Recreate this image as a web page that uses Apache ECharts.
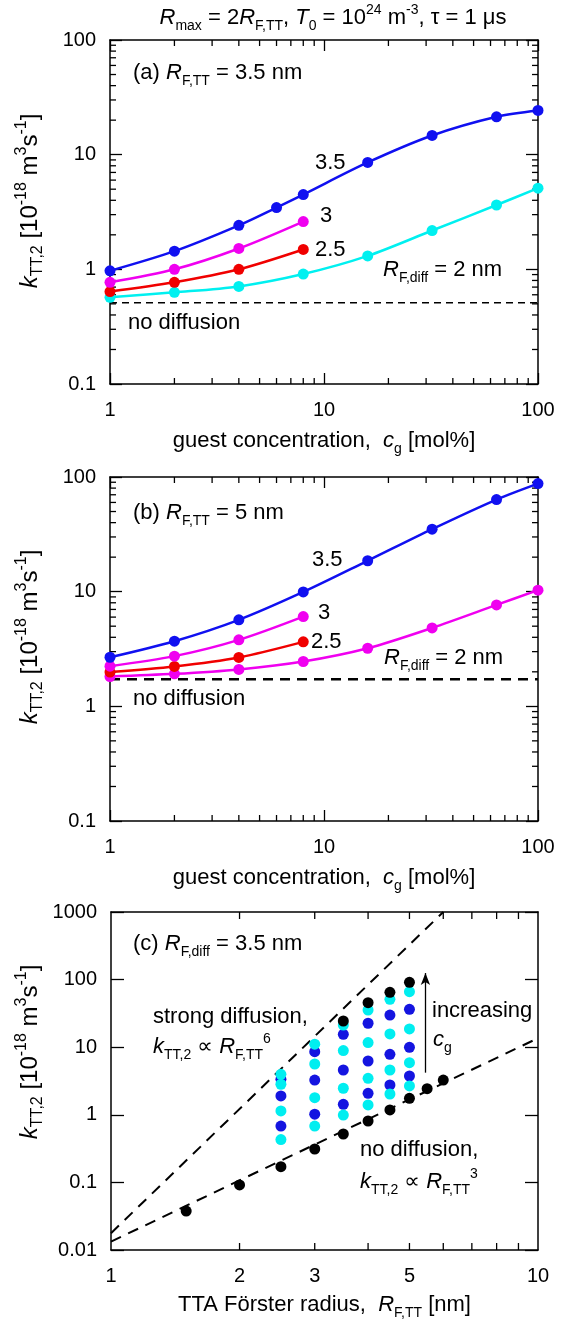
<!DOCTYPE html>
<html>
<head>
<meta charset="utf-8">
<script src="https://cdn.jsdelivr.net/npm/echarts@6/dist/echarts.min.js"></script>
<style>
html, body { margin: 0; padding: 0; background: #fff; }
#chart { width: 576px; height: 1324px; }
</style>
</head>
<body>
<div id="chart"></div>
<script>
// ---- panel (a): R_F,TT = 3.5 nm ----
const cgA = [1, 2, 4, 6, 8, 16, 32, 64, 100];
const kA_35 = [0.97, 1.44, 2.42, 3.46, 4.49, 8.55, 14.7, 21.4, 24.3];
const cgShort = [1, 2, 4, 8];
const kA_3 = [0.77, 1.0, 1.52, 2.61];
const kA_25 = [0.64, 0.77, 1.0, 1.49];
const cgFull = [1, 2, 4, 8, 16, 32, 64, 100];
const kA_2 = [0.57, 0.63, 0.71, 0.91, 1.31, 2.18, 3.64, 5.1];
const kA_noDiff = 0.51;

// ---- panel (b): R_F,TT = 5 nm ----
const kB_35 = [2.68, 3.70, 5.68, 9.94, 18.6, 35.1, 63.6, 87.6];
const kB_3 = [2.24, 2.74, 3.80, 6.06];
const kB_25 = [1.99, 2.23, 2.67, 3.65];
const kB_2 = [1.82, 1.92, 2.10, 2.46, 3.21, 4.83, 7.66, 10.3];
const kB_noDiff = 1.72;

// ---- panel (c): R_F,diff = 3.5 nm, columns = cg 1,2,4,8,16,32,64,100 ----
const rCols = [2.5, 3, 3.5, 4, 4.5, 5];
const kC_25 = [0.43, 0.68, 1.14, 1.90, 2.83, 3.35, 3.97];
const kC_3 = [0.68, 1.02, 1.79, 3.27, 5.64, 8.6, 11.1];
const kC_35 = [0.99, 1.43, 2.47, 4.6, 8.9, 15.5, 21.3, 24.4];
const kC_4 = [1.40, 2.08, 3.47, 6.25, 11.7, 22.6, 35.5, 45.5];
const kC_45 = [2.03, 2.76, 4.6, 7.85, 15.7, 29.9, 51.1, 64.9];
const kC_5 = [2.67, 3.75, 5.9, 9.96, 18.6, 36.4, 66.2, 91.2];
const rNoDiff = [1.5, 2, 2.5, 3, 3.5, 4, 4.5, 5, 5.5, 6];
const kNoDiff = [0.0377, 0.0916, 0.171, 0.312, 0.52, 0.81, 1.18, 1.75, 2.43, 3.27];
const lineNoDiff = [[1, 0.0133], [10, 13.6]];
const lineStrong = [[1, 0.0177], [6.0, 1000]];
const arrowR = 5.45, arrowFrom = 4.2, arrowTo = 125;

// ticks / labels
const minorAB_x = [2, 3, 4, 5, 6, 7, 8, 9, 20, 30, 40, 50, 60, 70, 80, 90];
const minorAB_y = [0.2, 0.3, 0.4, 0.5, 0.6, 0.7, 0.8, 0.9, 2, 3, 4, 5, 6, 7, 8, 9, 20, 30, 40, 50, 60, 70, 80, 90];
const ticksC_x = [2, 3, 4, 5, 6, 7, 8, 9];
const labelsC_x = [1, 2, 3, 5, 10];

const FONT = "'Liberation Sans', Arial, 'DejaVu Sans', sans-serif";
const BLUE = '#1010f0', CYAN = '#00f0f0', MAGENTA = '#f000f0', RED = '#f00000';

const zip = (xs, ys) => xs.map((x, i) => [x, ys[i]]);

// rich text styles (axis names use "color", graphic uses "fill")
function richStyles(key, size, small) {
  const base = { fontFamily: FONT };
  base[key] = '#000';
  return {
    n: Object.assign({ fontSize: size, lineHeight: size + 8 }, base),
    i: Object.assign({ fontSize: size, lineHeight: size + 8, fontStyle: 'italic' }, base),
    sub: Object.assign({ fontSize: small, lineHeight: small, verticalAlign: 'bottom' }, base),
    sup: Object.assign({ fontSize: small, lineHeight: small, verticalAlign: 'top' }, base)
  };
}
const axisRich = richStyles('color', 22, 14);
const gRich = richStyles('fill', 22, 14);
const yRich = richStyles('fill', 24, 16);

const yName = '{i|k}{sub|TT,2}{n| [10}{sup|-18}{n| m}{sup|3}{n|s}{sup|-1}{n|]}';
const xNameCg = '{n|guest concentration,  }{i|c}{sub|g}{n| [mol%]}';
const xNameR = '{n|TTA Förster radius,  }{i|R}{sub|F,TT}{n| [nm]}';

function fmt(v) { return String(+(+v).toPrecision(6)); }

function axis(grid, pos, min, max, opts) {
  opts = opts || {};
  const a = {
    type: 'log', logBase: 10, gridIndex: grid, position: pos, min: min, max: max,
    axisLine: { show: true, onZero: false, lineStyle: { color: '#000', width: 1.5 } },
    axisTick: { show: opts.tick !== false, inside: true, length: opts.tickLen || 12, lineStyle: { color: '#000', width: 1.3 } },
    axisLabel: { show: !!opts.label, color: '#000', fontFamily: FONT, fontSize: 20, margin: opts.margin || 12, formatter: fmt },
    splitLine: { show: false },
    minorTick: { show: false }
  };
  if (opts.labelValues) a.axisLabel.customValues = opts.labelValues;
  if (opts.name) {
    a.name = opts.name;
    a.nameLocation = 'middle';
    a.nameGap = opts.nameGap;
    a.nameTextStyle = { rich: axisRich };
  }
  return a;
}

// minor ticks drawn on all four sides through the axis scales
function tickSeries(grid, xVals, yVals, xMin, yMin, xLen, yLen) {
  const data = xVals.map(v => [v, yMin, 0]).concat(yVals.map(v => [xMin, v, 1]));
  return {
    type: 'custom', xAxisIndex: grid * 2, yAxisIndex: grid * 2, silent: true, z: 1,
    encode: { x: 0, y: 1 }, data: data,
    renderItem: function (params, api) {
      const cs = params.coordSys;
      const p = api.coord([api.value(0), api.value(1)]);
      const ls = { stroke: '#000', lineWidth: 1.3 };
      if (api.value(2) === 0) {
        return { type: 'group', children: [
          { type: 'line', shape: { x1: p[0], y1: cs.y + cs.height, x2: p[0], y2: cs.y + cs.height - xLen }, style: ls },
          { type: 'line', shape: { x1: p[0], y1: cs.y, x2: p[0], y2: cs.y + xLen }, style: ls }
        ] };
      }
      return { type: 'group', children: [
        { type: 'line', shape: { x1: cs.x, y1: p[1], x2: cs.x + yLen, y2: p[1] }, style: ls },
        { type: 'line', shape: { x1: cs.x + cs.width, y1: p[1], x2: cs.x + cs.width - yLen, y2: p[1] }, style: ls }
      ] };
    }
  };
}

function curve(grid, xs, ys, color) {
  return {
    type: 'line', xAxisIndex: grid * 2, yAxisIndex: grid * 2, data: zip(xs, ys),
    smooth: 0.3, symbol: 'circle', symbolSize: 11, showAllSymbol: true,
    itemStyle: { color: color }, lineStyle: { color: color, width: 2.5 }, z: 3
  };
}

function dashed(grid, pts, width, dash) {
  return {
    type: 'line', xAxisIndex: grid * 2, yAxisIndex: grid * 2, data: pts, symbol: 'none',
    lineStyle: { color: '#000', width: width, type: dash }, z: 2
  };
}

function dots(pts, color) {
  return {
    type: 'scatter', xAxisIndex: 4, yAxisIndex: 4, data: pts, symbol: 'circle', symbolSize: 11,
    itemStyle: { color: color, opacity: 1 }, z: 4
  };
}

// split panel (c) columns by colour: cg index even -> cyan, odd -> blue, last (100 mol%) -> black
const kCols = [kC_25, kC_3, kC_35, kC_4, kC_45, kC_5];
const cyanPts = [], bluePts = [], topPts = [];
kCols.forEach((col, j) => col.forEach((k, i) => {
  const p = [rCols[j], k];
  if (i === 7) topPts.push(p);
  else if (i % 2 === 0) cyanPts.push(p);
  else bluePts.push(p);
}));

function txt(x, y, text, align, rotation, rich) {
  return {
    type: 'text', x: x, y: y, rotation: rotation || 0, silent: true, z: 10,
    style: { text: text, rich: rich || gRich, align: align || 'left', verticalAlign: 'middle' }
  };
}

const chart = echarts.init(document.getElementById('chart'), null, { renderer: 'canvas' });

chart.setOption({
  animation: false,
  backgroundColor: '#fff',
  grid: [
    { left: 110, top: 40, width: 428, height: 344 },
    { left: 110, top: 477, width: 428, height: 344 },
    { left: 111, top: 912, width: 427, height: 338 }
  ],
  xAxis: [
    axis(0, 'bottom', 1, 100, { label: true, tickLen: 11, margin: 16, name: xNameCg, nameGap: 42 }),
    axis(0, 'top', 1, 100, { tickLen: 11 }),
    axis(1, 'bottom', 1, 100, { label: true, tickLen: 11, margin: 16, name: xNameCg, nameGap: 42 }),
    axis(1, 'top', 1, 100, { tickLen: 11 }),
    axis(2, 'bottom', 1, 10, { label: true, tick: false, margin: 16, labelValues: labelsC_x, name: xNameR, nameGap: 40 }),
    axis(2, 'top', 1, 10, { tick: false })
  ],
  yAxis: [
    axis(0, 'left', 0.1, 100, { label: true, margin: 14 }),
    axis(0, 'right', 0.1, 100, {}),
    axis(1, 'left', 0.1, 100, { label: true, margin: 14 }),
    axis(1, 'right', 0.1, 100, {}),
    axis(2, 'left', 0.01, 1000, { label: true, margin: 14, tickLen: 13 }),
    axis(2, 'right', 0.01, 1000, { tickLen: 13 })
  ],
  series: [
    tickSeries(0, minorAB_x, minorAB_y, 1, 0.1, 6, 6),
    dashed(0, [[cgFull[0], kA_noDiff], [cgFull[cgFull.length - 1], kA_noDiff]], 1.5, [7, 5]),
    curve(0, cgFull, kA_2, CYAN),
    curve(0, cgShort, kA_25, RED),
    curve(0, cgShort, kA_3, MAGENTA),
    curve(0, cgA, kA_35, BLUE),

    tickSeries(1, minorAB_x, minorAB_y, 1, 0.1, 6, 6),
    dashed(1, [[cgFull[0], kB_noDiff], [cgFull[cgFull.length - 1], kB_noDiff]], 2.5, [10, 7]),
    curve(1, cgFull, kB_2, MAGENTA),
    curve(1, cgShort, kB_25, RED),
    curve(1, cgShort, kB_3, MAGENTA),
    curve(1, cgFull, kB_35, BLUE),

    tickSeries(2, ticksC_x, [], 1, 0.01, 7, 7),
    dashed(2, lineNoDiff, 2, [11, 8]),
    Object.assign(dashed(2, lineStrong, 2, [11, 8]), {
      markLine: {
        silent: true, symbol: ['none', 'arrow'], symbolSize: [7, 12],
        label: { show: false },
        lineStyle: { color: '#000', width: 1.3, type: 'solid' },
        data: [[{ coord: [arrowR, arrowFrom] }, { coord: [arrowR, arrowTo] }]]
      }
    }),
    dots(bluePts, '#1414e0'),
    dots(cyanPts, '#00eef0'),
    dots(topPts, '#000'),
    dots(zip(rNoDiff, kNoDiff), '#000')
  ],
  graphic: [
    txt(333, 18, '{i|R}{sub|max}{n| = 2}{i|R}{sub|F,TT}{n|, }{i|T}{sub|0}{n| = 10}{sup|24}{n| m}{sup|-3}{n|, τ = 1 μs}', 'center'),

    txt(30, 201, yName, 'center', Math.PI / 2, yRich),
    txt(30, 637, yName, 'center', Math.PI / 2, yRich),
    txt(30, 1052, yName, 'center', Math.PI / 2, yRich),

    txt(133, 73, '{n|(a) }{i|R}{sub|F,TT}{n| = 3.5 nm}'),
    txt(315, 163, '{n|3.5}'),
    txt(320, 216, '{n|3}'),
    txt(315, 250, '{n|2.5}'),
    txt(383, 270, '{i|R}{sub|F,diff}{n| = 2 nm}'),
    txt(128, 323, '{n|no diffusion}'),

    txt(133, 513, '{n|(b) }{i|R}{sub|F,TT}{n| = 5 nm}'),
    txt(312, 560, '{n|3.5}'),
    txt(318, 613, '{n|3}'),
    txt(311, 642, '{n|2.5}'),
    txt(384, 658, '{i|R}{sub|F,diff}{n| = 2 nm}'),
    txt(133, 699, '{n|no diffusion}'),

    txt(133, 944, '{n|(c) }{i|R}{sub|F,diff}{n| = 3.5 nm}'),
    txt(153, 1017, '{n|strong diffusion,}'),
    txt(153, 1047, '{i|k}{sub|TT,2}{n| ∝ }{i|R}{sub|F,TT}{sup|6}'),
    txt(432, 1011, '{n|increasing}'),
    txt(433, 1040, '{i|c}{sub|g}'),
    txt(360, 1150, '{n|no diffusion,}'),
    txt(360, 1182, '{i|k}{sub|TT,2}{n| ∝ }{i|R}{sub|F,TT}{sup|3}')
  ]
});
</script>
</body>
</html>
